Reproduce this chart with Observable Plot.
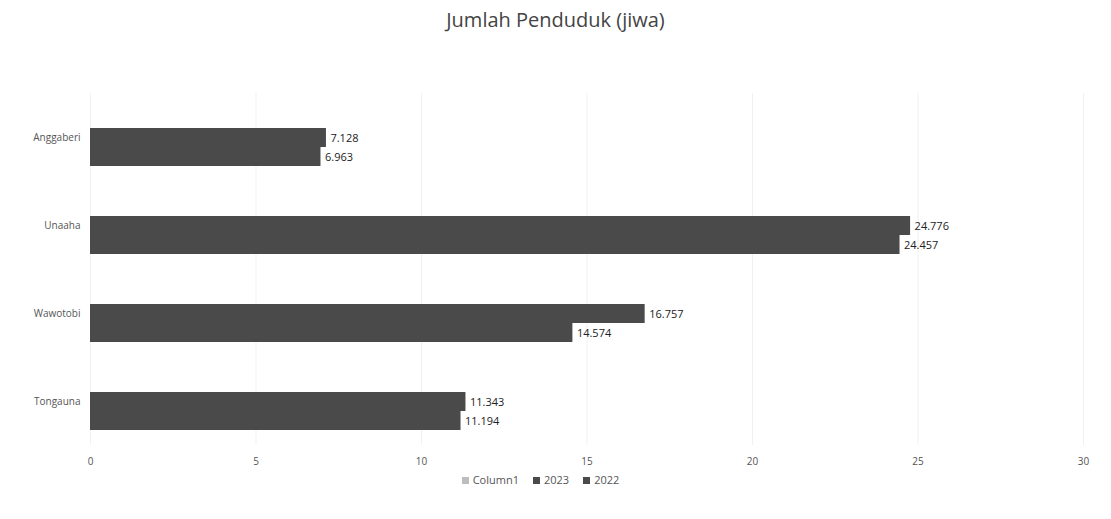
<!DOCTYPE html>
<html>
<head>
<meta charset="utf-8">
<script src="https://cdn.jsdelivr.net/npm/d3@7"></script>
<script src="https://cdn.jsdelivr.net/npm/@observablehq/plot@0.6"></script>
<style>
  body { margin: 0; background: #fff; font-family: "Open Sans", sans-serif; }
  #title { height: 40px; line-height: 40px; text-align: center; font-size: 20px; color: #444; }
  #chart svg { display: block; }
  #legend { margin-top: -10px; padding-right: 30px; text-align: center; font-size: 11px; color: #555; height: 20px; line-height: 20px; }
  #legend span.item { margin: 0 7px; white-space: nowrap; }
  #legend span.sw { display: inline-block; width: 7px; height: 7px; margin-right: 4px; vertical-align: 0px; }
</style>
</head>
<body>
<div id="title">Jumlah Penduduk (jiwa)</div>
<div id="chart"></div>
<div id="legend"></div>
<script>
const regions = ["Anggaberi", "Unaaha", "Wawotobi", "Tongauna"];
const seriesNames = ["Column1", "2023", "2022"];
const values2023 = [7.128, 24.776, 16.757, 11.343];
const values2022 = [6.963, 24.457, 14.574, 11.194];
const xTicks = [0, 5, 10, 15, 20, 25, 30];
const seriesColors = ["#bdbdbd", "#4a4a4a", "#4a4a4a"];

const data = [];
regions.forEach((r, i) => {
  data.push({ region: r, series: "2023", value: values2023[i] });
  data.push({ region: r, series: "2022", value: values2022[i] });
});

const step = 88, barH = 19.5;
const plot = Plot.plot({
  width: 1111,
  height: 440,
  marginTop: 53,
  marginBottom: 35,
  marginLeft: 90,
  marginRight: 28,
  style: { fontFamily: "'Open Sans', sans-serif", fontSize: "10px", color: "#555", background: "#fff" },
  facet: { data: data, y: "region", marginRight: 0 },
  fy: { domain: regions, padding: 0, label: null, axis: "left", tickSize: 0, tickPadding: 10 },
  y: { domain: seriesNames, paddingInner: 0, paddingOuter: (step / barH - 3) / 2, axis: null },
  x: { domain: [0, 30], ticks: xTicks, tickSize: 0, tickPadding: 12, label: null, tickFormat: d => String(d) },
  marks: [
    Plot.ruleX(xTicks, { stroke: "#f1f1f1" }),
    Plot.barX(data, { x: "value", y: "series", fill: "#4a4a4a" }),
    Plot.text(data, { x: "value", y: "series", text: d => d.value.toFixed(3), dx: 4, textAnchor: "start", fontSize: 11, fill: "#222" })
  ]
});
document.getElementById("chart").appendChild(plot);

const legend = document.getElementById("legend");
seriesNames.forEach((s, i) => {
  const item = document.createElement("span");
  item.className = "item";
  const sw = document.createElement("span");
  sw.className = "sw";
  sw.style.background = seriesColors[i];
  item.appendChild(sw);
  item.appendChild(document.createTextNode(s));
  legend.appendChild(item);
});
</script>
</body>
</html>
